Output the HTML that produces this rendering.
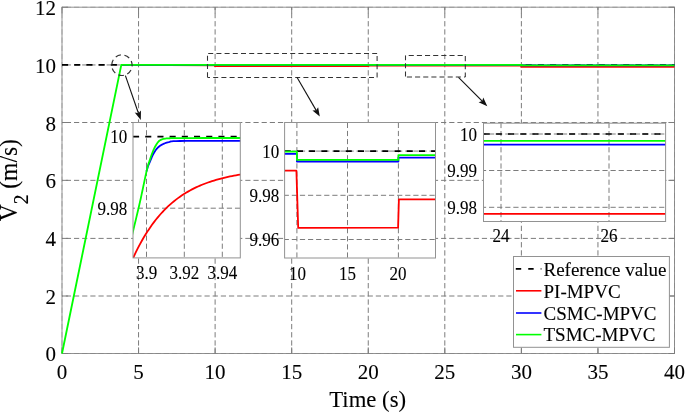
<!DOCTYPE html>
<html><head><meta charset="utf-8"><style>
html,body{margin:0;padding:0;background:#fff;width:685px;height:412px;overflow:hidden}
svg{display:block;filter:blur(0.35px)}
</style></head><body>
<svg width="685" height="412" viewBox="0 0 685 412">
<rect width="685" height="412" fill="#fff"/>
<rect x="62.0" y="7.2" width="612.5" height="346.3" fill="#fff"/>
<rect x="62.0" y="7.2" width="612.5" height="346.3" fill="none" stroke="#929292" stroke-width="1"/>
<line x1="62.00" y1="7.20" x2="62.00" y2="353.50" stroke="#7c7c7c" stroke-width="1" stroke-dasharray="5.3 2.885" stroke-dashoffset="2.47" stroke-opacity="0.45"/>
<line x1="62.00" y1="353.50" x2="62.00" y2="347.40" stroke="#7c7c7c" stroke-width="1"/>
<line x1="62.00" y1="7.20" x2="62.00" y2="13.30" stroke="#7c7c7c" stroke-width="1"/>
<line x1="138.56" y1="7.20" x2="138.56" y2="353.50" stroke="#7c7c7c" stroke-width="1" stroke-dasharray="5.3 2.885" stroke-dashoffset="2.47"/>
<line x1="138.56" y1="353.50" x2="138.56" y2="347.40" stroke="#7c7c7c" stroke-width="1"/>
<line x1="138.56" y1="7.20" x2="138.56" y2="13.30" stroke="#7c7c7c" stroke-width="1"/>
<line x1="215.12" y1="7.20" x2="215.12" y2="353.50" stroke="#7c7c7c" stroke-width="1" stroke-dasharray="5.3 2.885" stroke-dashoffset="2.47"/>
<line x1="215.12" y1="353.50" x2="215.12" y2="347.40" stroke="#7c7c7c" stroke-width="1"/>
<line x1="215.12" y1="7.20" x2="215.12" y2="13.30" stroke="#7c7c7c" stroke-width="1"/>
<line x1="291.69" y1="7.20" x2="291.69" y2="353.50" stroke="#7c7c7c" stroke-width="1" stroke-dasharray="5.3 2.885" stroke-dashoffset="2.47"/>
<line x1="291.69" y1="353.50" x2="291.69" y2="347.40" stroke="#7c7c7c" stroke-width="1"/>
<line x1="291.69" y1="7.20" x2="291.69" y2="13.30" stroke="#7c7c7c" stroke-width="1"/>
<line x1="368.25" y1="7.20" x2="368.25" y2="353.50" stroke="#7c7c7c" stroke-width="1" stroke-dasharray="5.3 2.885" stroke-dashoffset="2.47"/>
<line x1="368.25" y1="353.50" x2="368.25" y2="347.40" stroke="#7c7c7c" stroke-width="1"/>
<line x1="368.25" y1="7.20" x2="368.25" y2="13.30" stroke="#7c7c7c" stroke-width="1"/>
<line x1="444.81" y1="7.20" x2="444.81" y2="353.50" stroke="#7c7c7c" stroke-width="1" stroke-dasharray="5.3 2.885" stroke-dashoffset="2.47"/>
<line x1="444.81" y1="353.50" x2="444.81" y2="347.40" stroke="#7c7c7c" stroke-width="1"/>
<line x1="444.81" y1="7.20" x2="444.81" y2="13.30" stroke="#7c7c7c" stroke-width="1"/>
<line x1="521.38" y1="7.20" x2="521.38" y2="353.50" stroke="#7c7c7c" stroke-width="1" stroke-dasharray="5.3 2.885" stroke-dashoffset="2.47"/>
<line x1="521.38" y1="353.50" x2="521.38" y2="347.40" stroke="#7c7c7c" stroke-width="1"/>
<line x1="521.38" y1="7.20" x2="521.38" y2="13.30" stroke="#7c7c7c" stroke-width="1"/>
<line x1="597.94" y1="7.20" x2="597.94" y2="353.50" stroke="#7c7c7c" stroke-width="1" stroke-dasharray="5.3 2.885" stroke-dashoffset="2.47"/>
<line x1="597.94" y1="353.50" x2="597.94" y2="347.40" stroke="#7c7c7c" stroke-width="1"/>
<line x1="597.94" y1="7.20" x2="597.94" y2="13.30" stroke="#7c7c7c" stroke-width="1"/>
<line x1="674.50" y1="7.20" x2="674.50" y2="353.50" stroke="#7c7c7c" stroke-width="1" stroke-dasharray="5.3 2.885" stroke-dashoffset="2.47" stroke-opacity="0.45"/>
<line x1="674.50" y1="353.50" x2="674.50" y2="347.40" stroke="#7c7c7c" stroke-width="1"/>
<line x1="674.50" y1="7.20" x2="674.50" y2="13.30" stroke="#7c7c7c" stroke-width="1"/>
<line x1="62.00" y1="353.50" x2="674.50" y2="353.50" stroke="#7c7c7c" stroke-width="1" stroke-dasharray="5.2 2.957" stroke-dashoffset="4.314" stroke-opacity="0.45"/>
<line x1="62.00" y1="353.50" x2="68.10" y2="353.50" stroke="#7c7c7c" stroke-width="1"/>
<line x1="674.50" y1="353.50" x2="668.40" y2="353.50" stroke="#7c7c7c" stroke-width="1"/>
<line x1="62.00" y1="296.00" x2="674.50" y2="296.00" stroke="#7c7c7c" stroke-width="1" stroke-dasharray="5.2 2.957" stroke-dashoffset="4.314"/>
<line x1="62.00" y1="296.00" x2="68.10" y2="296.00" stroke="#7c7c7c" stroke-width="1"/>
<line x1="674.50" y1="296.00" x2="668.40" y2="296.00" stroke="#7c7c7c" stroke-width="1"/>
<line x1="62.00" y1="238.40" x2="674.50" y2="238.40" stroke="#7c7c7c" stroke-width="1" stroke-dasharray="5.2 2.957" stroke-dashoffset="4.314"/>
<line x1="62.00" y1="238.40" x2="68.10" y2="238.40" stroke="#7c7c7c" stroke-width="1"/>
<line x1="674.50" y1="238.40" x2="668.40" y2="238.40" stroke="#7c7c7c" stroke-width="1"/>
<line x1="62.00" y1="180.35" x2="674.50" y2="180.35" stroke="#7c7c7c" stroke-width="1" stroke-dasharray="5.2 2.957" stroke-dashoffset="4.314"/>
<line x1="62.00" y1="180.35" x2="68.10" y2="180.35" stroke="#7c7c7c" stroke-width="1"/>
<line x1="674.50" y1="180.35" x2="668.40" y2="180.35" stroke="#7c7c7c" stroke-width="1"/>
<line x1="62.00" y1="122.50" x2="674.50" y2="122.50" stroke="#7c7c7c" stroke-width="1" stroke-dasharray="5.2 2.957" stroke-dashoffset="4.314"/>
<line x1="62.00" y1="122.50" x2="68.10" y2="122.50" stroke="#7c7c7c" stroke-width="1"/>
<line x1="674.50" y1="122.50" x2="668.40" y2="122.50" stroke="#7c7c7c" stroke-width="1"/>
<line x1="62.00" y1="64.95" x2="674.50" y2="64.95" stroke="#7c7c7c" stroke-width="1" stroke-dasharray="5.2 2.957" stroke-dashoffset="4.314"/>
<line x1="62.00" y1="64.95" x2="68.10" y2="64.95" stroke="#7c7c7c" stroke-width="1"/>
<line x1="674.50" y1="64.95" x2="668.40" y2="64.95" stroke="#7c7c7c" stroke-width="1"/>
<line x1="62.00" y1="7.20" x2="674.50" y2="7.20" stroke="#7c7c7c" stroke-width="1" stroke-dasharray="5.2 2.957" stroke-dashoffset="4.314" stroke-opacity="0.45"/>
<line x1="62.00" y1="7.20" x2="68.10" y2="7.20" stroke="#7c7c7c" stroke-width="1"/>
<line x1="674.50" y1="7.20" x2="668.40" y2="7.20" stroke="#7c7c7c" stroke-width="1"/>
<line x1="62.00" y1="64.92" x2="674.50" y2="64.92" stroke="#000" stroke-width="1.6" stroke-dasharray="6.1 6.1"/>
<path d="M121.30,64.92 L215.12,65.42 L215.12,66.02 L368.25,66.02 L368.25,65.52 L521.38,65.52 L521.38,66.72 L674.50,66.72" fill="none" stroke="#ff0000" stroke-width="1.85"/>
<path d="M121.30,64.92 L521.38,64.92 L521.38,65.37 L674.50,65.37" fill="none" stroke="#0000ff" stroke-width="1.85"/>
<path d="M62.00,353.50 L121.30,64.92 L521.38,64.92 L521.38,65.37 L674.50,65.37" fill="none" stroke="#00ff00" stroke-width="1.85"/>
<ellipse cx="121.9" cy="65.2" rx="10.2" ry="10.3" fill="none" stroke="#333" stroke-width="1.2" pathLength="70" stroke-dasharray="6 4" stroke-dashoffset="4.67"/>
<line x1="207.5" y1="53.4" x2="377.1" y2="53.4" stroke="#333" stroke-width="1.05" stroke-dasharray="5.0 3.20" stroke-dashoffset="7.50"/>
<line x1="377.1" y1="53.4" x2="377.1" y2="77.4" stroke="#333" stroke-width="1.05" stroke-dasharray="5.0 3.20" stroke-dashoffset="5.60"/>
<line x1="207.5" y1="77.4" x2="377.1" y2="77.4" stroke="#333" stroke-width="1.05" stroke-dasharray="5.0 3.20" stroke-dashoffset="2.50"/>
<line x1="207.5" y1="53.4" x2="207.5" y2="77.4" stroke="#333" stroke-width="1.05" stroke-dasharray="5.0 3.20" stroke-dashoffset="5.80"/>
<line x1="405.5" y1="55.5" x2="465.3" y2="55.5" stroke="#333" stroke-width="1.05" stroke-dasharray="5.1 3.05" stroke-dashoffset="4.95"/>
<line x1="465.3" y1="55.5" x2="465.3" y2="77.0" stroke="#333" stroke-width="1.05" stroke-dasharray="5.1 3.05" stroke-dashoffset="7.55"/>
<line x1="405.5" y1="77.0" x2="465.3" y2="77.0" stroke="#333" stroke-width="1.05" stroke-dasharray="5.1 3.05" stroke-dashoffset="6.75"/>
<line x1="405.5" y1="55.5" x2="405.5" y2="77.0" stroke="#333" stroke-width="1.05" stroke-dasharray="5.1 3.05" stroke-dashoffset="0.40"/>
<line x1="125.40" y1="75.60" x2="138.44" y2="113.20" stroke="#111" stroke-width="1.1"/>
<path d="M140.80,120.00 L134.73,112.58 L138.44,113.20 L140.97,110.42 Z" fill="#111"/>
<line x1="297.10" y1="77.50" x2="316.19" y2="110.37" stroke="#111" stroke-width="1.1"/>
<path d="M319.80,116.60 L312.43,110.47 L316.19,110.37 L318.14,107.16 Z" fill="#111"/>
<line x1="458.50" y1="77.30" x2="482.22" y2="101.10" stroke="#111" stroke-width="1.1"/>
<path d="M487.30,106.20 L478.61,102.15 L482.22,101.10 L483.28,97.50 Z" fill="#111"/>
<text x="62.00" y="379.0" font-family="Liberation Serif, serif" stroke="#000" stroke-width="0.1" font-size="21" text-anchor="middle" fill="#000">0</text>
<text x="138.56" y="379.0" font-family="Liberation Serif, serif" stroke="#000" stroke-width="0.1" font-size="21" text-anchor="middle" fill="#000">5</text>
<text x="215.12" y="379.0" font-family="Liberation Serif, serif" stroke="#000" stroke-width="0.1" font-size="21" text-anchor="middle" fill="#000">10</text>
<text x="291.69" y="379.0" font-family="Liberation Serif, serif" stroke="#000" stroke-width="0.1" font-size="21" text-anchor="middle" fill="#000">15</text>
<text x="368.25" y="379.0" font-family="Liberation Serif, serif" stroke="#000" stroke-width="0.1" font-size="21" text-anchor="middle" fill="#000">20</text>
<text x="444.81" y="379.0" font-family="Liberation Serif, serif" stroke="#000" stroke-width="0.1" font-size="21" text-anchor="middle" fill="#000">25</text>
<text x="521.38" y="379.0" font-family="Liberation Serif, serif" stroke="#000" stroke-width="0.1" font-size="21" text-anchor="middle" fill="#000">30</text>
<text x="597.94" y="379.0" font-family="Liberation Serif, serif" stroke="#000" stroke-width="0.1" font-size="21" text-anchor="middle" fill="#000">35</text>
<text x="674.50" y="379.0" font-family="Liberation Serif, serif" stroke="#000" stroke-width="0.1" font-size="21" text-anchor="middle" fill="#000">40</text>
<text x="55.9" y="361.40" font-family="Liberation Serif, serif" stroke="#000" stroke-width="0.1" font-size="21" text-anchor="end" fill="#000">0</text>
<text x="55.9" y="303.68" font-family="Liberation Serif, serif" stroke="#000" stroke-width="0.1" font-size="21" text-anchor="end" fill="#000">2</text>
<text x="55.9" y="245.97" font-family="Liberation Serif, serif" stroke="#000" stroke-width="0.1" font-size="21" text-anchor="end" fill="#000">4</text>
<text x="55.9" y="188.25" font-family="Liberation Serif, serif" stroke="#000" stroke-width="0.1" font-size="21" text-anchor="end" fill="#000">6</text>
<text x="55.9" y="130.53" font-family="Liberation Serif, serif" stroke="#000" stroke-width="0.1" font-size="21" text-anchor="end" fill="#000">8</text>
<text x="55.9" y="72.82" font-family="Liberation Serif, serif" stroke="#000" stroke-width="0.1" font-size="21" text-anchor="end" fill="#000">10</text>
<text x="55.9" y="15.10" font-family="Liberation Serif, serif" stroke="#000" stroke-width="0.1" font-size="21" text-anchor="end" fill="#000">12</text>
<text x="329.3" y="406.6" font-family="Liberation Serif, serif" stroke="#000" stroke-width="0.1" font-size="24" textLength="76.8" lengthAdjust="spacingAndGlyphs" fill="#000">Time (s)</text>
<text transform="translate(17.4,180.2) rotate(-90) scale(0.97,1)" font-family="Liberation Serif, serif" stroke="#000" stroke-width="0.1" font-size="24.3" text-anchor="middle" fill="#000">V<tspan font-size="20" dy="11">2</tspan><tspan dy="-11"> (m/s)</tspan></text>
<clipPath id="c1"><rect x="133.0" y="122.5" width="107.30000000000001" height="135.39999999999998"/></clipPath>
<rect x="133.0" y="122.5" width="107.30000000000001" height="135.39999999999998" fill="#fff"/>
<line x1="146.50" y1="122.5" x2="146.50" y2="257.9" stroke="#7c7c7c" stroke-width="1" stroke-dasharray="5.2 2.9" stroke-dashoffset="0.4"/>
<line x1="184.30" y1="122.5" x2="184.30" y2="257.9" stroke="#7c7c7c" stroke-width="1" stroke-dasharray="5.2 2.9" stroke-dashoffset="0.4"/>
<line x1="222.30" y1="122.5" x2="222.30" y2="257.9" stroke="#7c7c7c" stroke-width="1" stroke-dasharray="5.2 2.9" stroke-dashoffset="0.4"/>
<line x1="133.0" y1="208.20" x2="240.3" y2="208.20" stroke="#7c7c7c" stroke-width="1" stroke-dasharray="5.2 2.9" stroke-dashoffset="3.36"/>
<g clip-path="url(#c1)">
<line x1="133.0" y1="136.6" x2="240.3" y2="136.6" stroke="#000" stroke-width="1.6" stroke-dasharray="6.1 6.1"/>
<path d="M130.00,265.15 L132.00,260.52 L134.00,256.12 L136.00,251.92 L138.00,247.93 L140.00,244.12 L142.00,240.50 L144.00,237.05 L146.00,233.76 L148.00,230.63 L150.00,227.65 L152.00,224.81 L154.00,222.10 L156.00,219.53 L158.00,217.07 L160.00,214.74 L162.00,212.51 L164.00,210.39 L166.00,208.37 L168.00,206.45 L170.00,204.62 L172.00,202.88 L174.00,201.22 L176.00,199.64 L178.00,198.13 L180.00,196.70 L182.00,195.33 L184.00,194.03 L186.00,192.79 L188.00,191.61 L190.00,190.48 L192.00,189.41 L194.00,188.39 L196.00,187.42 L198.00,186.50 L200.00,185.62 L202.00,184.78 L204.00,183.98 L206.00,183.22 L208.00,182.50 L210.00,181.80 L212.00,181.15 L214.00,180.52 L216.00,179.93 L218.00,179.36 L220.00,178.82 L222.00,178.30 L224.00,177.81 L226.00,177.34 L228.00,176.90 L230.00,176.48 L232.00,176.07 L234.00,175.69 L236.00,175.32 L238.00,174.97 L240.00,174.64 L242.00,174.33 L244.00,174.02 L246.00,173.74 L248.00,173.46" fill="none" stroke="#ff0000" stroke-width="1.8" stroke-linejoin="round"/>
<path d="M146.51,171.48 L146.72,170.57 L146.91,169.81 L147.11,169.11 L147.33,168.37 L147.60,167.50 L147.92,166.56 L148.25,165.66 L148.59,164.78 L148.95,163.93 L149.31,163.10 L149.68,162.27 L150.04,161.44 L150.40,160.60 L150.75,159.75 L151.09,158.91 L151.44,158.06 L151.78,157.22 L152.13,156.40 L152.50,155.58 L152.89,154.78 L153.30,154.00 L153.73,153.23 L154.18,152.46 L154.65,151.71 L155.13,150.97 L155.63,150.25 L156.14,149.56 L156.66,148.91 L157.20,148.30 L157.74,147.73 L158.29,147.20 L158.85,146.71 L159.42,146.24 L160.01,145.80 L160.64,145.39 L161.30,144.99 L162.00,144.60 L162.72,144.23 L163.46,143.88 L164.21,143.55 L165.00,143.24 L165.84,142.95 L166.74,142.69 L167.73,142.43 L168.80,142.20 L169.62,141.99 L170.03,141.79 L170.31,141.61 L170.76,141.46 L171.67,141.32 L173.31,141.19 L176.00,141.09 L180.00,141.00 L185.99,140.93 L193.99,140.90 L203.29,140.88 L213.20,140.88 L223.02,140.88 L232.06,140.89 L239.62,140.90 L245.00,140.90" fill="none" stroke="#0000ff" stroke-width="1.8" stroke-linejoin="round"/>
<path d="M128.00,252.00 L128.34,250.58 L128.78,248.78 L129.30,246.65 L129.89,244.22 L130.54,241.56 L131.23,238.71 L131.96,235.70 L132.70,232.60 L133.50,229.26 L134.38,225.58 L135.33,221.67 L136.30,217.60 L137.28,213.48 L138.24,209.42 L139.16,205.49 L140.00,201.80 L140.80,198.22 L141.58,194.60 L142.35,191.01 L143.08,187.52 L143.77,184.20 L144.41,181.13 L144.99,178.37 L145.50,176.00 L145.92,174.08 L146.24,172.58 L146.50,171.40 L146.71,170.46 L146.90,169.66 L147.08,168.93 L147.27,168.17 L147.50,167.30 L147.75,166.37 L148.00,165.51 L148.25,164.68 L148.51,163.88 L148.76,163.09 L149.03,162.29 L149.31,161.47 L149.60,160.60 L149.91,159.69 L150.23,158.74 L150.56,157.77 L150.90,156.79 L151.25,155.81 L151.60,154.84 L151.95,153.90 L152.30,153.00 L152.65,152.13 L152.99,151.27 L153.33,150.44 L153.68,149.62 L154.03,148.82 L154.40,148.03 L154.79,147.26 L155.20,146.50 L155.63,145.74 L156.08,144.98 L156.55,144.22 L157.02,143.48 L157.52,142.78 L158.03,142.12 L158.56,141.52 L159.10,141.00 L159.65,140.56 L160.21,140.18 L160.78,139.86 L161.37,139.59 L161.98,139.36 L162.62,139.16 L163.29,138.98 L164.00,138.80 L164.74,138.65 L165.51,138.53 L166.31,138.44 L167.13,138.37 L167.99,138.32 L168.89,138.28 L169.82,138.24 L170.80,138.20 L171.45,138.16 L171.62,138.13 L171.62,138.11 L171.76,138.09 L172.36,138.08 L173.72,138.07 L176.16,138.06 L180.00,138.05 L185.90,138.04 L193.85,138.03 L203.14,138.02 L213.07,138.02 L222.93,138.01 L232.01,138.01 L239.60,138.00 L245.00,138.00" fill="none" stroke="#00ff00" stroke-width="1.8" stroke-linejoin="round"/>
</g>
<rect x="133.0" y="122.5" width="107.30000000000001" height="135.39999999999998" fill="none" stroke="#929292" stroke-width="1"/>
<text transform="translate(146.50,279.2) scale(0.93,1)" font-family="Liberation Serif, serif" stroke="#000" stroke-width="0.1" font-size="18.3" text-anchor="middle" fill="#000">3.9</text>
<text transform="translate(184.30,279.2) scale(0.93,1)" font-family="Liberation Serif, serif" stroke="#000" stroke-width="0.1" font-size="18.3" text-anchor="middle" fill="#000">3.92</text>
<text transform="translate(222.30,279.2) scale(0.93,1)" font-family="Liberation Serif, serif" stroke="#000" stroke-width="0.1" font-size="18.3" text-anchor="middle" fill="#000">3.94</text>
<text transform="translate(127.2,143.20) scale(0.93,1)" font-family="Liberation Serif, serif" stroke="#000" stroke-width="0.1" font-size="18.3" text-anchor="end" fill="#000">10</text>
<text transform="translate(127.2,214.70) scale(0.93,1)" font-family="Liberation Serif, serif" stroke="#000" stroke-width="0.1" font-size="18.3" text-anchor="end" fill="#000">9.98</text>
<clipPath id="c2"><rect x="284.6" y="122.5" width="150.89999999999998" height="135.5"/></clipPath>
<rect x="284.6" y="122.5" width="150.89999999999998" height="135.5" fill="#fff"/>
<line x1="296.90" y1="122.5" x2="296.90" y2="258.0" stroke="#7c7c7c" stroke-width="1" stroke-dasharray="5.2 2.9" stroke-dashoffset="7.8"/>
<line x1="347.50" y1="122.5" x2="347.50" y2="258.0" stroke="#7c7c7c" stroke-width="1" stroke-dasharray="5.2 2.9" stroke-dashoffset="7.8"/>
<line x1="398.40" y1="122.5" x2="398.40" y2="258.0" stroke="#7c7c7c" stroke-width="1" stroke-dasharray="5.2 2.9" stroke-dashoffset="7.8"/>
<line x1="284.6" y1="151.10" x2="435.5" y2="151.10" stroke="#7c7c7c" stroke-width="1" stroke-dasharray="5.2 2.9" stroke-dashoffset="0.9"/>
<line x1="284.6" y1="195.30" x2="435.5" y2="195.30" stroke="#7c7c7c" stroke-width="1" stroke-dasharray="5.2 2.9" stroke-dashoffset="0.9"/>
<line x1="284.6" y1="239.50" x2="435.5" y2="239.50" stroke="#7c7c7c" stroke-width="1" stroke-dasharray="5.2 2.9" stroke-dashoffset="0.9"/>
<g clip-path="url(#c2)">
<line x1="284.7" y1="151.1" x2="435.6" y2="151.1" stroke="#000" stroke-width="1.6" stroke-dasharray="6.1 6.1"/>
<path d="M280.00,170.70 L296.40,170.70 L298.20,227.90 L398.10,227.60 L398.90,199.30 L440.00,199.30" fill="none" stroke="#ff0000" stroke-width="1.8" stroke-linejoin="round"/>
<path d="M280.00,153.80 L296.90,153.80 L296.90,161.50 L398.40,161.50 L398.40,157.60 L440.00,157.60" fill="none" stroke="#0000ff" stroke-width="1.8" stroke-linejoin="round"/>
<path d="M280.00,151.60 L296.90,151.60 L296.90,159.90 L398.40,159.90 L398.40,155.10 L440.00,155.10" fill="none" stroke="#00ff00" stroke-width="1.8" stroke-linejoin="round"/>
</g>
<rect x="284.6" y="122.5" width="150.89999999999998" height="135.5" fill="none" stroke="#929292" stroke-width="1"/>
<text transform="translate(297.40,279.5) scale(0.93,1)" font-family="Liberation Serif, serif" stroke="#000" stroke-width="0.1" font-size="18.3" text-anchor="middle" fill="#000">10</text>
<text transform="translate(347.50,279.5) scale(0.93,1)" font-family="Liberation Serif, serif" stroke="#000" stroke-width="0.1" font-size="18.3" text-anchor="middle" fill="#000">15</text>
<text transform="translate(397.90,279.5) scale(0.93,1)" font-family="Liberation Serif, serif" stroke="#000" stroke-width="0.1" font-size="18.3" text-anchor="middle" fill="#000">20</text>
<text transform="translate(279.2,157.60) scale(0.93,1)" font-family="Liberation Serif, serif" stroke="#000" stroke-width="0.1" font-size="18.3" text-anchor="end" fill="#000">10</text>
<text transform="translate(279.2,201.80) scale(0.93,1)" font-family="Liberation Serif, serif" stroke="#000" stroke-width="0.1" font-size="18.3" text-anchor="end" fill="#000">9.98</text>
<text transform="translate(279.2,246.00) scale(0.93,1)" font-family="Liberation Serif, serif" stroke="#000" stroke-width="0.1" font-size="18.3" text-anchor="end" fill="#000">9.96</text>
<clipPath id="c3"><rect x="483.5" y="123.2" width="182.10000000000002" height="98.3"/></clipPath>
<rect x="483.5" y="123.2" width="182.10000000000002" height="98.3" fill="#fff"/>
<line x1="501.00" y1="123.2" x2="501.00" y2="221.5" stroke="#7c7c7c" stroke-width="1" stroke-dasharray="5.2 2.9" stroke-dashoffset="0.3"/>
<line x1="609.00" y1="123.2" x2="609.00" y2="221.5" stroke="#7c7c7c" stroke-width="1" stroke-dasharray="5.2 2.9" stroke-dashoffset="0.3"/>
<line x1="483.5" y1="134.00" x2="665.6" y2="134.00" stroke="#7c7c7c" stroke-width="1" stroke-dasharray="5.2 2.9" stroke-dashoffset="2.56"/>
<line x1="483.5" y1="170.50" x2="665.6" y2="170.50" stroke="#7c7c7c" stroke-width="1" stroke-dasharray="5.2 2.9" stroke-dashoffset="2.56"/>
<line x1="483.5" y1="207.30" x2="665.6" y2="207.30" stroke="#7c7c7c" stroke-width="1" stroke-dasharray="5.2 2.9" stroke-dashoffset="2.56"/>
<g clip-path="url(#c3)">
<line x1="483.6" y1="134.0" x2="665.5" y2="134.0" stroke="#000" stroke-width="1.6" stroke-dasharray="6.1 6.1"/>
<path d="M480.00,213.80 L670.00,213.80" fill="none" stroke="#ff0000" stroke-width="1.8" stroke-linejoin="round"/>
<path d="M480.00,144.70 L670.00,144.70" fill="none" stroke="#0000ff" stroke-width="1.8" stroke-linejoin="round"/>
<path d="M480.00,140.80 L670.00,140.80" fill="none" stroke="#00ff00" stroke-width="1.8" stroke-linejoin="round"/>
</g>
<rect x="483.5" y="123.2" width="182.10000000000002" height="98.3" fill="none" stroke="#929292" stroke-width="1"/>
<text transform="translate(501.00,242.2) scale(0.93,1)" font-family="Liberation Serif, serif" stroke="#000" stroke-width="0.1" font-size="18.3" text-anchor="middle" fill="#000">24</text>
<text transform="translate(609.00,242.2) scale(0.93,1)" font-family="Liberation Serif, serif" stroke="#000" stroke-width="0.1" font-size="18.3" text-anchor="middle" fill="#000">26</text>
<text transform="translate(477.0,140.50) scale(0.93,1)" font-family="Liberation Serif, serif" stroke="#000" stroke-width="0.1" font-size="18.3" text-anchor="end" fill="#000">10</text>
<text transform="translate(477.0,177.00) scale(0.93,1)" font-family="Liberation Serif, serif" stroke="#000" stroke-width="0.1" font-size="18.3" text-anchor="end" fill="#000">9.99</text>
<text transform="translate(477.0,213.80) scale(0.93,1)" font-family="Liberation Serif, serif" stroke="#000" stroke-width="0.1" font-size="18.3" text-anchor="end" fill="#000">9.98</text>
<rect x="513.5" y="256.5" width="155.9" height="90.8" fill="#fff" stroke="#929292" stroke-width="1"/>
<line x1="515.8" y1="268.9" x2="541.4" y2="268.9" stroke="#000" stroke-width="1.6" stroke-dasharray="5.4 7.05"/>
<text x="543.5" y="275.6" font-family="Liberation Serif, serif" stroke="#000" stroke-width="0.1" font-size="19" fill="#000">Reference value</text>
<line x1="516" y1="290.8" x2="541.4" y2="290.8" stroke="#ff0000" stroke-width="1.6"/>
<text x="543.5" y="297.6" font-family="Liberation Serif, serif" stroke="#000" stroke-width="0.1" font-size="19" fill="#000">PI-MPVC</text>
<line x1="516" y1="313.0" x2="541.4" y2="313.0" stroke="#0000ff" stroke-width="1.6"/>
<text x="543.5" y="319.8" font-family="Liberation Serif, serif" stroke="#000" stroke-width="0.1" font-size="19" fill="#000">CSMC-MPVC</text>
<line x1="516" y1="334.6" x2="541.4" y2="334.6" stroke="#00ff00" stroke-width="1.6"/>
<text x="543.5" y="341.4" font-family="Liberation Serif, serif" stroke="#000" stroke-width="0.1" font-size="19" fill="#000">TSMC-MPVC</text>
</svg>
</body></html>
